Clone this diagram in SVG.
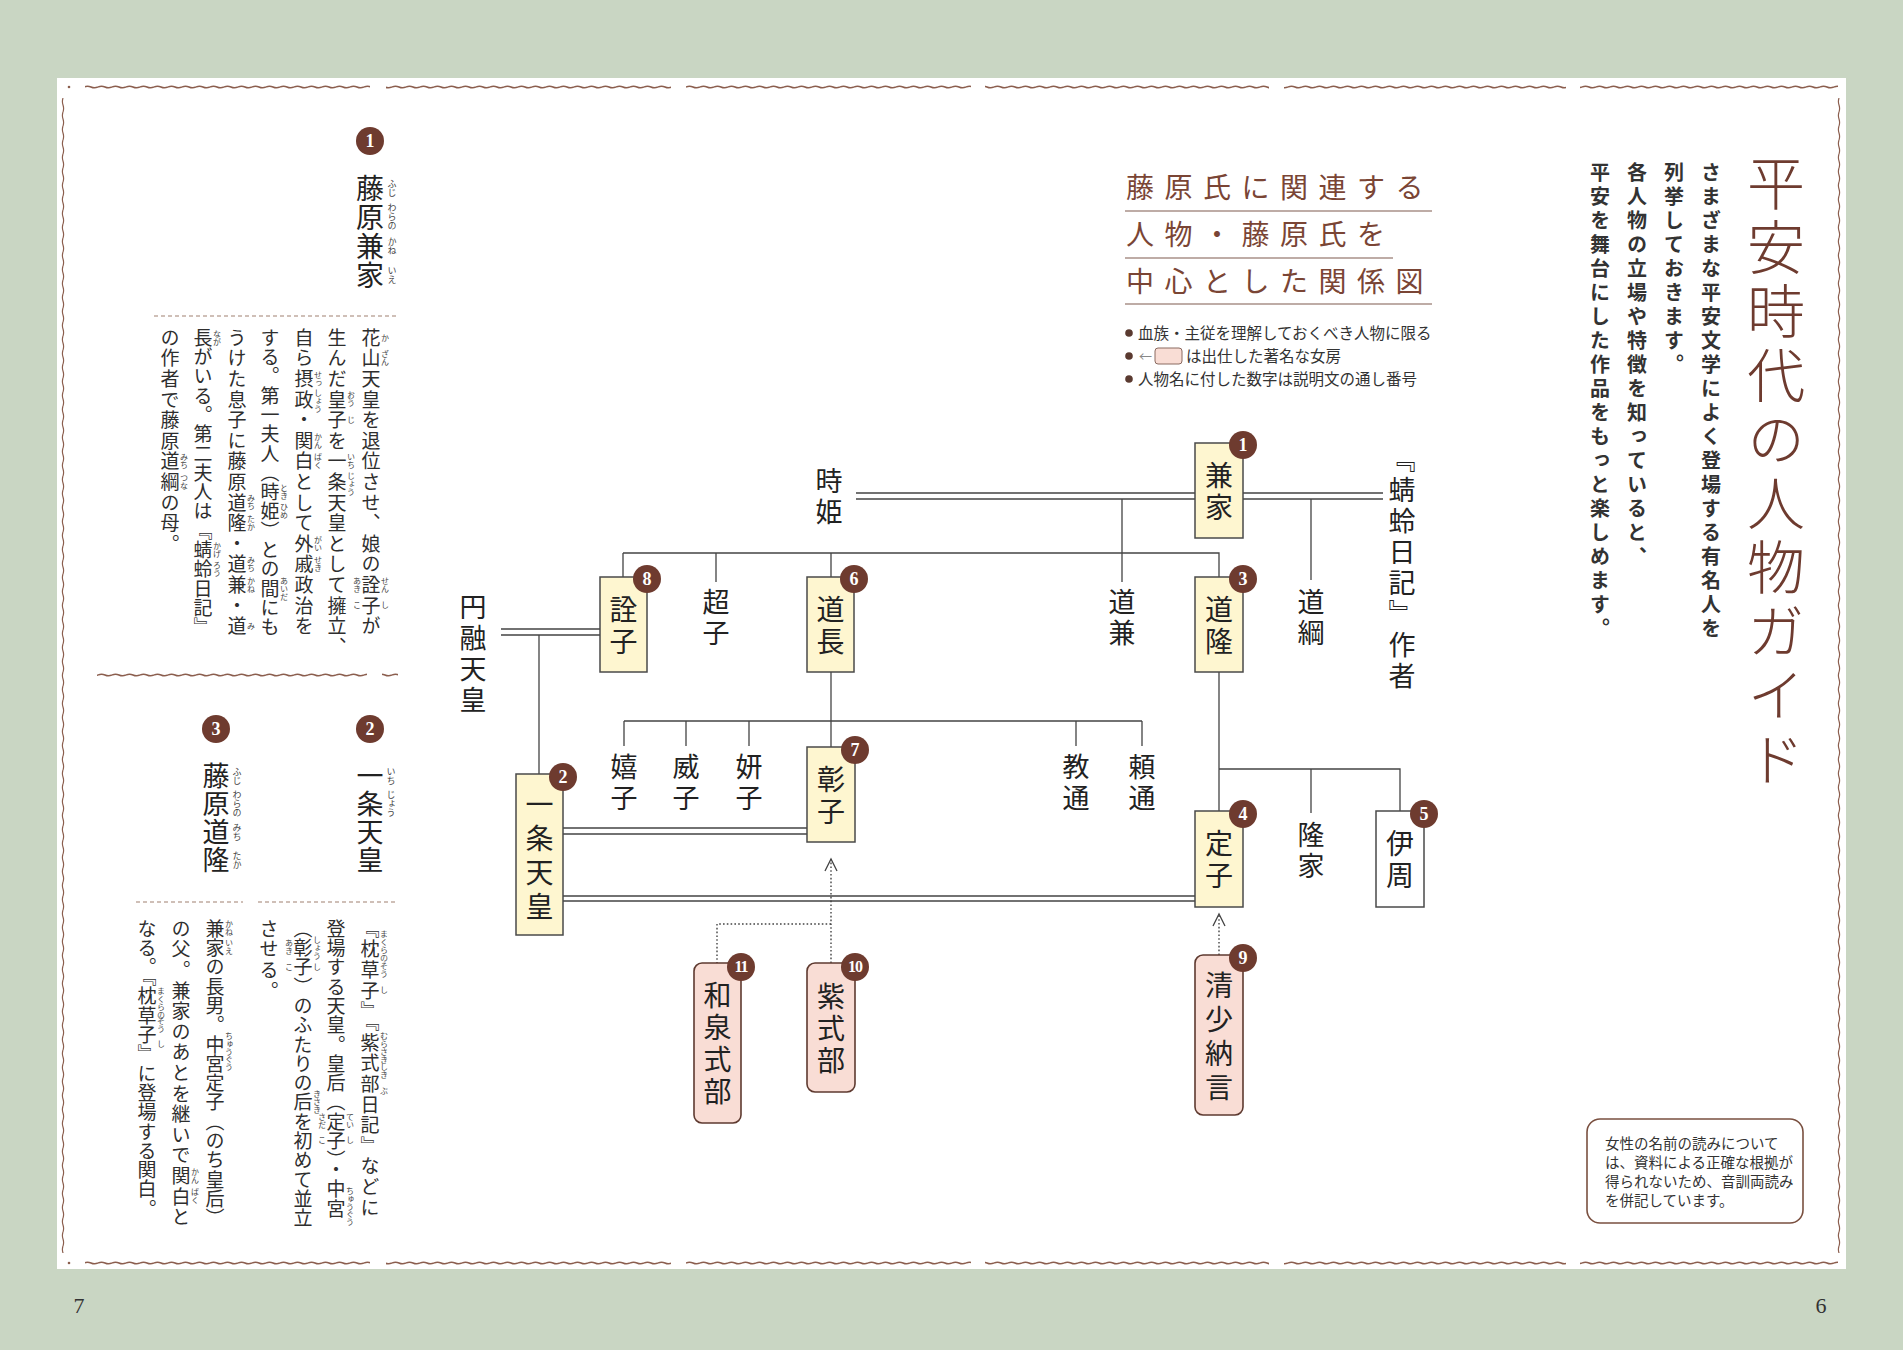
<svg xmlns="http://www.w3.org/2000/svg" width="1903" height="1350" viewBox="0 0 1903 1350">
<style>
.cjk{font-family:"Noto Sans CJK JP","Noto Sans CJK SC",sans-serif}
.v{writing-mode:vertical-rl}
.box{fill:#fef6d0;stroke:#4a4a4a;stroke-width:1.5}
.wbox{fill:#ffffff;stroke:#4a4a4a;stroke-width:1.5}
.pbox{fill:#f9ddd5;stroke:#5e3a30;stroke-width:1.6}
.ln{stroke:#444;stroke-width:1.3;fill:none}
.dt{stroke:#444;stroke-width:1.4;fill:none;stroke-dasharray:1.6 2.2}
.bd{fill:#6e3b2f}
.bn{font-family:"Liberation Serif",serif;font-weight:bold;fill:#fff;font-size:18px;text-anchor:middle}
.bn2{font-family:"Liberation Serif",serif;font-weight:bold;fill:#fff;font-size:16px;text-anchor:middle;letter-spacing:-1px}
.nm{font-size:28px;fill:#222;text-anchor:middle;letter-spacing:4px}
.lb{font-size:27px;fill:#222;letter-spacing:4px}
.bt{font-size:19px;fill:#2e2e2e;letter-spacing:1.6px}
.btc{font-size:19px;fill:#2e2e2e;letter-spacing:0.3px}
.rb{font-size:8px;fill:#444;text-anchor:middle}
.rt{font-size:9px;fill:#444;text-anchor:middle}
.st{font-size:28px;fill:#222;letter-spacing:1px}
.ttl{font-size:28px;fill:#7a4535;letter-spacing:10.5px}
.ul{stroke:#a89088;stroke-width:1.5}
.lg{font-size:15.5px;fill:#333}
.dash{stroke:#a08070;stroke-width:1.2;stroke-dasharray:4 3}
.wv{fill:url(#wh)}
.wvv{fill:url(#wvp)}
.intro{font-size:20px;font-weight:bold;fill:#333;letter-spacing:4px}
</style>
<defs>
<pattern id="wh" width="14" height="6" patternUnits="userSpaceOnUse"><path d="M0 3 Q3.5 1.4 7 3 T14 3" fill="none" stroke="#8b5e4e" stroke-width="1.6"/></pattern>
<pattern id="wvp" width="6" height="14" patternUnits="userSpaceOnUse"><path d="M3 0 Q1.8 3.5 3 7 T3 14" fill="none" stroke="#8b5e4e" stroke-width="1.2"/></pattern>
<marker id="arr" markerUnits="userSpaceOnUse" markerWidth="16" markerHeight="16" viewBox="-14 -8 16 16" refX="0" refY="0" orient="auto"><path d="M-12 -6 L0 0 L-12 6" fill="none" stroke="#444" stroke-width="1.3"/></marker>
</defs>

<rect x="0" y="0" width="1903" height="1350" fill="#c9d6c3"/>
<rect x="57" y="78" width="1789" height="1191" fill="#ffffff"/>

<g id="borders">
<rect class="wv" x="85" y="84" width="285" height="6"/>
<rect class="wv" x="386" y="84" width="285" height="6"/>
<rect class="wv" x="686" y="84" width="285" height="6"/>
<rect class="wv" x="985" y="84" width="284" height="6"/>
<rect class="wv" x="1284" y="84" width="282" height="6"/>
<rect class="wv" x="1580" y="84" width="258" height="6"/>
<rect class="wv" x="85" y="1260" width="285" height="6"/>
<rect class="wv" x="386" y="1260" width="285" height="6"/>
<rect class="wv" x="686" y="1260" width="285" height="6"/>
<rect class="wv" x="985" y="1260" width="284" height="6"/>
<rect class="wv" x="1284" y="1260" width="282" height="6"/>
<rect class="wv" x="1580" y="1260" width="258" height="6"/>
<rect class="wvv" x="60" y="98" width="6" height="1155"/>
<rect class="wvv" x="1836" y="98" width="6" height="1155"/>
<circle cx="69" cy="87" r="1.3" fill="#8b5e4e"/>
<circle cx="69" cy="1263" r="1.3" fill="#8b5e4e"/>
<rect class="wv" x="97" y="672" width="270" height="6"/>
<rect class="wv" x="382" y="672" width="16" height="6"/>
</g>

<g id="page-title">
<text class="cjk v" x="1776" y="154" style="font-size:58px;fill:#6e3b2f;letter-spacing:6px;font-weight:300">平安時代の人物ガイド</text>
</g>
<g id="intro">
<text class="cjk v intro" x="1711" y="162">さまざまな平安文学によく登場する有名人を</text>
<text class="cjk v intro" x="1674" y="162">列挙しておきます。</text>
<text class="cjk v intro" x="1637" y="162">各人物の立場や特徴を知っていると、</text>
<text class="cjk v intro" x="1600" y="162">平安を舞台にした作品をもっと楽しめます。</text>
</g>

<g id="chart-title">
<text class="cjk ttl" x="1126" y="198">藤原氏に関連する</text>
<line class="ul" x1="1125" y1="211" x2="1432" y2="211"/>
<text class="cjk ttl" x="1126" y="245">人物・藤原氏を</text>
<line class="ul" x1="1125" y1="258" x2="1393" y2="258"/>
<text class="cjk ttl" x="1126" y="292">中心とした関係図</text>
<line class="ul" x1="1125" y1="304" x2="1432" y2="304"/>
</g>
<g id="legend">
<circle cx="1129" cy="333" r="3.8" fill="#5a3a30"/>
<text class="cjk lg" x="1138" y="339">血族・主従を理解しておくべき人物に限る</text>
<circle cx="1129" cy="356" r="3.8" fill="#5a3a30"/>
<text class="cjk" x="1139" y="361" style="font-size:13px;fill:#888">←</text>
<rect x="1155" y="348" width="27" height="16" rx="3" fill="#f9ddd5" stroke="#8a6a60" stroke-width="1"/>
<text class="cjk lg" x="1186" y="362">は出仕した著名な女房</text>
<circle cx="1129" cy="379" r="3.8" fill="#5a3a30"/>
<text class="cjk lg" x="1138" y="385">人物名に付した数字は説明文の通し番号</text>
</g>

<g id="connectors">
<path class="ln" d="M856 493 H1195 M856 499 H1195 M1243 493 H1383 M1243 499 H1383"/>
<path class="ln" d="M1122 499 V582 M1311 499 V580"/>
<path class="ln" d="M623 553 H1219 V577 M623 553 V577 M716 553 V582 M831 553 V577"/>
<path class="ln" d="M501 629 H600 M501 635 H600 M539 635 V774"/>
<path class="ln" d="M831 672 V747"/>
<path class="ln" d="M624 721 H1142 M624 721 V746 M686 721 V746 M749 721 V746 M1076 721 V746 M1142 721 V746"/>
<path class="ln" d="M563 828 H807 M563 834 H807"/>
<path class="ln" d="M563 896 H1195 M563 901 H1195"/>
<path class="ln" d="M1219 672 V811 M1219 769 H1400 V811 M1311 769 V813"/>
<path class="dt" d="M831 963 V859" marker-end="url(#arr)"/>
<path class="dt" d="M831 924 H717 V963"/>
<path class="dt" d="M1219 955 V914" marker-end="url(#arr)"/>
</g>

<g id="labels">
<text class="cjk v lb" x="829" y="467">時姫</text>
<text class="cjk v lb" x="1402" y="445">『蜻蛉日記』作者</text>
<text class="cjk v lb" x="1122" y="588">道兼</text>
<text class="cjk v lb" x="1311" y="588">道綱</text>
<text class="cjk v lb" x="716" y="588">超子</text>
<text class="cjk v lb" x="473" y="593">円融天皇</text>
<text class="cjk v lb" x="624" y="753">嬉子</text>
<text class="cjk v lb" x="686" y="753">威子</text>
<text class="cjk v lb" x="749" y="753">妍子</text>
<text class="cjk v lb" x="1076" y="753">教通</text>
<text class="cjk v lb" x="1142" y="753">頼通</text>
<text class="cjk v lb" x="1311" y="821">隆家</text>
</g>

<g id="n-kaneie">
<rect class="box" x="1195" y="443" width="48" height="95"/>
<text class="cjk v nm" x="1219" y="493">兼家</text>
<circle class="bd" cx="1243" cy="445" r="14"/><text class="bn" x="1243" y="451">1</text>
</g>
<g id="n-michitaka">
<rect class="box" x="1195" y="577" width="48" height="95"/>
<text class="cjk v nm" x="1219" y="627">道隆</text>
<circle class="bd" cx="1243" cy="579" r="14"/><text class="bn" x="1243" y="585">3</text>
</g>
<g id="n-michinaga">
<rect class="box" x="807" y="577" width="47" height="95"/>
<text class="cjk v nm" x="830.5" y="627">道長</text>
<circle class="bd" cx="854" cy="579" r="14"/><text class="bn" x="854" y="585">6</text>
</g>
<g id="n-senshi">
<rect class="box" x="600" y="577" width="47" height="95"/>
<text class="cjk v nm" x="623.5" y="627">詮子</text>
<circle class="bd" cx="647" cy="579" r="14"/><text class="bn" x="647" y="585">8</text>
</g>
<g id="n-ichijo">
<rect class="box" x="516" y="774" width="47" height="161"/>
<text class="cjk v nm" x="539.5" y="858" style="letter-spacing:6px">一条天皇</text>
<circle class="bd" cx="563" cy="777" r="14"/><text class="bn" x="563" y="783">2</text>
</g>
<g id="n-shoshi">
<rect class="box" x="807" y="747" width="48" height="95"/>
<text class="cjk v nm" x="831" y="797">彰子</text>
<circle class="bd" cx="855" cy="750" r="14"/><text class="bn" x="855" y="756">7</text>
</g>
<g id="n-teishi">
<rect class="box" x="1195" y="811" width="48" height="96"/>
<text class="cjk v nm" x="1219" y="861">定子</text>
<circle class="bd" cx="1243" cy="814" r="14"/><text class="bn" x="1243" y="820">4</text>
</g>
<g id="n-korechika">
<rect class="wbox" x="1376" y="811" width="48" height="96"/>
<text class="cjk v nm" x="1400" y="861">伊周</text>
<circle class="bd" cx="1424" cy="814" r="14"/><text class="bn" x="1424" y="820">5</text>
</g>
<g id="n-seishonagon">
<rect class="pbox" x="1195" y="955" width="48" height="160" rx="8"/>
<text class="cjk v nm" x="1219" y="1039" style="letter-spacing:6px">清少納言</text>
<circle class="bd" cx="1243" cy="958" r="14"/><text class="bn" x="1243" y="964">9</text>
</g>
<g id="n-murasaki">
<rect class="pbox" x="807" y="963" width="48" height="129" rx="8"/>
<text class="cjk v nm" x="831" y="1030">紫式部</text>
<circle class="bd" cx="855" cy="967" r="14"/><text class="bn2" x="855" y="972">10</text>
</g>
<g id="n-izumi">
<rect class="pbox" x="694" y="963" width="47" height="160" rx="8"/>
<text class="cjk v nm" x="717.5" y="1045">和泉式部</text>
<circle class="bd" cx="741" cy="967" r="14"/><text class="bn2" x="741" y="972">11</text>
</g>

<g id="desc-1">
<circle class="bd" cx="370" cy="141" r="14"/><text class="bn" x="370" y="147">1</text>
<text class="cjk v st" x="370" y="174">藤原兼家</text>
<text class="cjk v rt" x="392" y="188">ふじ</text>
<text class="cjk v rt" x="392" y="217">わらの</text>
<text class="cjk v rt" x="392" y="246">かね</text>
<text class="cjk v rt" x="392" y="275">いえ</text>
<line class="dash" x1="154" y1="316" x2="397" y2="316"/>
<text class="cjk v bt" x="371" y="328">花山天皇を退位させ、娘の詮子が</text>
<text class="cjk v bt" x="337" y="328">生んだ皇子を一条天皇として擁立、</text>
<text class="cjk v bt" x="304" y="328">自ら摂政・関白として外戚政治を</text>
<text class="cjk v btc" x="270" y="328">する。第一夫人（時姫）との間にも</text>
<text class="cjk v bt" x="237" y="328">うけた息子に藤原道隆・道兼・道</text>
<text class="cjk v btc" x="203" y="328">長がいる。第二夫人は『蜻蛉日記』</text>
<text class="cjk v bt" x="170" y="328">の作者で藤原道綱の母。</text>
<text class="cjk v rb" x="385" y="338">か</text>
<text class="cjk v rb" x="385" y="358">ざん</text>
<text class="cjk v rb" x="385" y="585">せん</text>
<text class="cjk v rb" x="385" y="605">し</text>
<text class="cjk v rb" x="357" y="585">あき</text>
<text class="cjk v rb" x="357" y="605">こ</text>
<text class="cjk v rb" x="351" y="399">おう</text>
<text class="cjk v rb" x="351" y="420">じ</text>
<text class="cjk v rb" x="351" y="461">いち</text>
<text class="cjk v rb" x="351" y="484">じょう</text>
<text class="cjk v rb" x="318" y="379">せっ</text>
<text class="cjk v rb" x="318" y="401">しょう</text>
<text class="cjk v rb" x="318" y="441">かん</text>
<text class="cjk v rb" x="318" y="461">ぱく</text>
<text class="cjk v rb" x="318" y="544">がい</text>
<text class="cjk v rb" x="318" y="564">せき</text>
<text class="cjk v rb" x="284" y="492">とき</text>
<text class="cjk v rb" x="284" y="511">ひめ</text>
<text class="cjk v rb" x="284" y="589">あいだ</text>
<text class="cjk v rb" x="251" y="502">みち</text>
<text class="cjk v rb" x="251" y="523">たか</text>
<text class="cjk v rb" x="251" y="564">みち</text>
<text class="cjk v rb" x="251" y="585">かね</text>
<text class="cjk v rb" x="251" y="626">み</text>
<text class="cjk v rb" x="217" y="338">なが</text>
<text class="cjk v rb" x="217" y="550">かげ</text>
<text class="cjk v rb" x="217" y="569">ろう</text>
<text class="cjk v rb" x="184" y="461">みち</text>
<text class="cjk v rb" x="184" y="482">つな</text>
</g>

<g id="desc-2">
<circle class="bd" cx="370" cy="729" r="14"/><text class="bn" x="370" y="735">2</text>
<text class="cjk v st" x="370" y="762" style="font-size:27px">一条天皇</text>
<text class="cjk v rt" x="391" y="776">いち</text>
<text class="cjk v rt" x="391" y="804">じょう</text>
<line class="dash" x1="258" y1="902" x2="397" y2="902"/>
<text class="cjk v bt" x="370" y="919">『枕草子』『紫式部日記』などに</text>
<text class="cjk v btc" x="336" y="919">登場する天皇。皇后（定子）・中宮</text>
<text class="cjk v btc" x="303" y="919">（彰子）のふたりの后を初めて並立</text>
<text class="cjk v bt" x="269" y="919">させる。</text>
<text class="cjk v rb" x="384" y="946">まくらの</text>
<text class="cjk v rb" x="384" y="970">そう</text>
<text class="cjk v rb" x="384" y="990">し</text>
<text class="cjk v rb" x="384" y="1048">むらさき</text>
<text class="cjk v rb" x="384" y="1071">しき</text>
<text class="cjk v rb" x="384" y="1091">ぶ</text>
<text class="cjk v rb" x="350" y="1121">てい</text>
<text class="cjk v rb" x="350" y="1140">し</text>
<text class="cjk v rb" x="322" y="1121">さだ</text>
<text class="cjk v rb" x="322" y="1140">こ</text>
<text class="cjk v rb" x="350" y="1199">ちゅう</text>
<text class="cjk v rb" x="350" y="1218">ぐう</text>
<text class="cjk v rb" x="317" y="948">しょう</text>
<text class="cjk v rb" x="317" y="967">し</text>
<text class="cjk v rb" x="289" y="947">あき</text>
<text class="cjk v rb" x="289" y="967">こ</text>
<text class="cjk v rb" x="317" y="1102">きさき</text>
</g>

<g id="desc-3">
<circle class="bd" cx="216" cy="729" r="14"/><text class="bn" x="216" y="735">3</text>
<text class="cjk v st" x="216" y="762" style="font-size:27px">藤原道隆</text>
<text class="cjk v rt" x="237" y="776">ふじ</text>
<text class="cjk v rt" x="237" y="804">わらの</text>
<text class="cjk v rt" x="237" y="832">みち</text>
<text class="cjk v rt" x="237" y="860">たか</text>
<line class="dash" x1="136" y1="902" x2="243" y2="902"/>
<text class="cjk v btc" x="215" y="919">兼家の長男。中宮定子（のち皇后）</text>
<text class="cjk v bt" x="181" y="919">の父。兼家のあとを継いで関白と</text>
<text class="cjk v btc" x="147" y="919">なる。『枕草子』に登場する関白。</text>
<text class="cjk v rb" x="229" y="928">かね</text>
<text class="cjk v rb" x="229" y="947">いえ</text>
<text class="cjk v rb" x="229" y="1044">ちゅう</text>
<text class="cjk v rb" x="229" y="1063">ぐう</text>
<text class="cjk v rb" x="195" y="1176">かん</text>
<text class="cjk v rb" x="195" y="1196">ぱく</text>
<text class="cjk v rb" x="161" y="1003">まくらの</text>
<text class="cjk v rb" x="161" y="1025">そう</text>
<text class="cjk v rb" x="161" y="1044">し</text>
</g>

<g id="note">
<rect x="1587" y="1119" width="216" height="104" rx="13" fill="#fff" stroke="#7a5040" stroke-width="1.6"/>
<text class="cjk" x="1605" y="1149" style="font-size:14.5px;fill:#333">女性の名前の読みについて</text>
<text class="cjk" x="1605" y="1168" style="font-size:14.5px;fill:#333">は、資料による正確な根拠が</text>
<text class="cjk" x="1605" y="1187" style="font-size:14.5px;fill:#333">得られないため、音訓両読み</text>
<text class="cjk" x="1605" y="1206" style="font-size:14.5px;fill:#333">を併記しています。</text>
</g>

<g id="page-numbers">
<text x="79" y="1313" style="font-family:'Liberation Serif',serif;font-size:22px;fill:#333;text-anchor:middle">7</text>
<text x="1821" y="1313" style="font-family:'Liberation Serif',serif;font-size:22px;fill:#333;text-anchor:middle">6</text>
</g>
</svg>
